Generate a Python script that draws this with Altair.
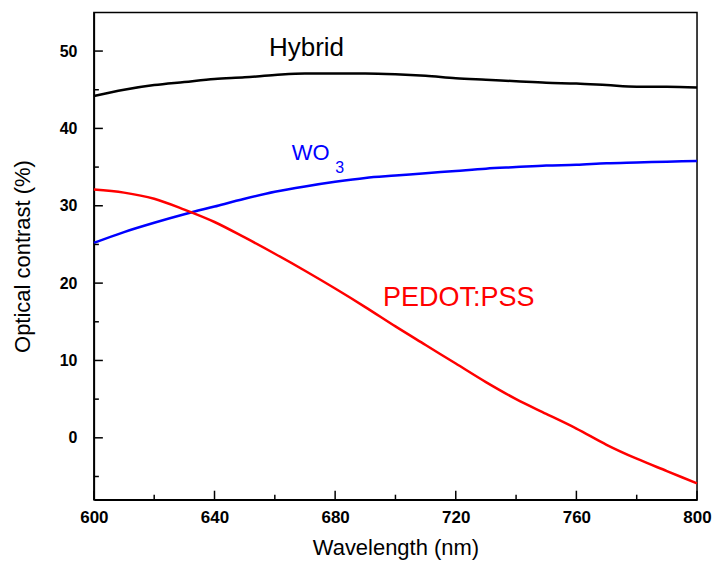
import altair as alt
import pandas as pd

wavelength = [600, 610, 620, 630, 640, 650, 660, 670, 680, 690, 700,
              710, 720, 730, 740, 750, 760, 770, 780, 790, 800]
hybrid = [44.2, 45.0, 45.6, 46.0, 46.4, 46.6, 46.9, 47.1, 47.1, 47.1, 47.0,
          46.8, 46.5, 46.3, 46.1, 45.9, 45.8, 45.6, 45.4, 45.4, 45.3]
wo3 = [25.2, 26.6, 27.8, 28.9, 29.9, 30.9, 31.8, 32.5, 33.1, 33.6, 33.9,
       34.2, 34.5, 34.8, 35.0, 35.2, 35.3, 35.5, 35.6, 35.7, 35.8]
pedot = [32.1, 31.7, 30.9, 29.5, 27.9, 25.9, 23.8, 21.6, 19.3, 16.9, 14.4,
         12.0, 9.6, 7.2, 5.0, 3.1, 1.2, -0.9, -2.7, -4.3, -5.9]

series_names = ["Hybrid", "WO3", "PEDOT:PSS"]
series_colors = ["#000000", "#0000FF", "#FF0000"]

x_major = [600, 640, 680, 720, 760, 800]
x_minor = [620, 660, 700, 740, 780]
y_major = [0, 10, 20, 30, 40, 50]
y_minor = [-5, 5, 15, 25, 35, 45]

rows = []
for name, vals in zip(series_names, [hybrid, wo3, pedot]):
    for w, v in zip(wavelength, vals):
        rows.append({"wl": w, "val": v, "series": name})
df = pd.DataFrame(rows)

xs = alt.Scale(domain=[600, 800], nice=False, zero=False)
ys = alt.Scale(domain=[-8, 55], nice=False, zero=False)
FONT = "Liberation Sans"
XT = "Wavelength (nm)"
YT = "Optical contrast (%)"

lines = alt.Chart(df).mark_line(strokeWidth=2.5, interpolate="monotone").encode(
    x=alt.X("wl:Q", scale=xs, title=XT, axis=alt.Axis(values=x_major)),
    y=alt.Y("val:Q", scale=ys, title=YT, axis=alt.Axis(values=y_major)),
    color=alt.Color("series:N", scale=alt.Scale(domain=series_names, range=series_colors), legend=None),
    detail="series:N",
)

yticks_major = alt.Chart(pd.DataFrame({"v": y_major})).mark_rule(color="black", strokeWidth=1.5).encode(
    y=alt.Y("v:Q", scale=ys, title=YT), x=alt.value(0), x2=alt.value(9))
yticks_minor = alt.Chart(pd.DataFrame({"v": y_minor})).mark_rule(color="black", strokeWidth=1.5).encode(
    y=alt.Y("v:Q", scale=ys, title=YT), x=alt.value(0), x2=alt.value(5))
xticks_major = alt.Chart(pd.DataFrame({"v": x_major})).mark_rule(color="black", strokeWidth=1.5).encode(
    x=alt.X("v:Q", scale=xs, title=XT), y=alt.value(488), y2=alt.value(479))
xticks_minor = alt.Chart(pd.DataFrame({"v": x_minor})).mark_rule(color="black", strokeWidth=1.5).encode(
    x=alt.X("v:Q", scale=xs, title=XT), y=alt.value(488), y2=alt.value(483))

label_text = ["Hybrid", "WO", "3", "PEDOT:PSS"]
label_x = [670.5, 665.6, 680.0, 695.9]
label_y = [49.3, 35.9, 34.2, 17.0]
label_size = [26, 22, 16, 27]
label_color = ["#000000", "#0000FF", "#0000FF", "#FF0000"]
label_align = ["center", "left", "left", "left"]

text_layers = []
for t, lx, ly, s, c, a in zip(label_text, label_x, label_y, label_size, label_color, label_align):
    text_layers.append(
        alt.Chart(pd.DataFrame({"x": [lx], "y": [ly], "t": [t]})).mark_text(
            fontSize=s, color=c, align=a, baseline="alphabetic", font=FONT
        ).encode(x=alt.X("x:Q", scale=xs, title=XT), y=alt.Y("y:Q", scale=ys, title=YT), text="t:N")
    )

chart = alt.layer(lines, yticks_major, yticks_minor, xticks_major, xticks_minor, *text_layers).properties(
    width=604, height=488,
    autosize=alt.AutoSizeParams(type="none"),
    padding={"left": 86, "top": 4, "right": 16, "bottom": 63},
    background="white",
).configure_view(
    stroke="black", strokeWidth=1.5
).configure_axis(
    ticks=False, grid=False, domainColor="black", domainWidth=1.5,
    labelColor="black", titleColor="black", labelFont=FONT, titleFont=FONT,
    labelFontWeight="bold", titleFontWeight="normal", titleFontSize=22,
    labelFlush=False, labelOverlap=False,
).configure_axisX(
    labelFontSize=17, labelPadding=10, titlePadding=12,
).configure_axisY(
    labelFontSize=16, labelPadding=17, titlePadding=25,
)

chart.save("out.html", embed_options={"renderer": "svg", "actions": False})
